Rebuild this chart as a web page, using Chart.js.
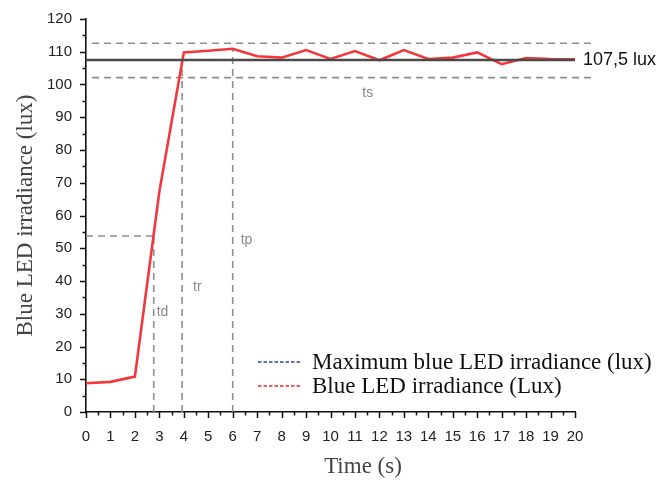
<!DOCTYPE html>
<html>
<head>
<meta charset="utf-8">
<script src="https://cdn.jsdelivr.net/npm/chart.js@4/dist/chart.umd.min.js"></script>
<style>
  html, body { margin: 0; padding: 0; background: #fff; }
  #wrap { width: 662px; height: 483px; position: relative; }
</style>
</head>
<body>
<div id="wrap"><canvas id="c" width="662" height="483"></canvas></div>
<script>
// data
const times = [0, 1, 2, 3, 4, 5, 6, 7, 8, 9, 10, 11, 12, 13, 14, 15, 16, 17, 18, 19, 20];
const irradiance = [8.8, 9.2, 10.8, 67.3, 109.8, 110.3, 110.9, 108.6, 108.2, 110.5, 107.8, 110.2, 107.4, 110.5, 107.8, 108.2, 109.8, 106.2, 108.1, 107.8, 107.7];
const steadyValue = 107.5;
const bandLevels = [112.6, 102.1];
const tdPoint = { x: 2.77, y: 53.75 };
const trPoint = { x: 3.93, y: 107.5 };
const tpPoint = { x: 6.0, y: 110.9 };
const xTicks = [0, 20];
const yTicks = [0, 120];

const GREY = '#8e8e8e';
const serif = '"Liberation Serif", "Times New Roman", serif';
const sans = '"Liberation Sans", Arial, sans-serif';

// dashed reference lines, tick marks, labels and legend
const extras = {
  id: 'extras',
  beforeDatasetsDraw(chart) {
    const { ctx, scales: { x, y } } = chart;
    ctx.save();
    ctx.strokeStyle = GREY;
    ctx.lineWidth = 1.6;
    ctx.setLineDash([7, 5]);
    const seg = (x1, y1, x2, y2) => {
      ctx.beginPath();
      ctx.moveTo(x.getPixelForValue(x1), y.getPixelForValue(y1));
      ctx.lineTo(x.getPixelForValue(x2), y.getPixelForValue(y2));
      ctx.stroke();
    };
    bandLevels.forEach(v => seg(0.25, v, 20.65, v));
    seg(0, tdPoint.y, tdPoint.x, tdPoint.y);
    seg(tdPoint.x, 0, tdPoint.x, tdPoint.y);
    seg(trPoint.x, 0, trPoint.x, trPoint.y);
    seg(tpPoint.x, 0, tpPoint.x, tpPoint.y);
    ctx.restore();
  },
  afterDraw(chart) {
    const { ctx, scales: { x, y } } = chart;
    ctx.save();
    // tick marks
    ctx.strokeStyle = '#111';
    ctx.lineWidth = 1.5;
    const x0 = x.left, y0 = y.bottom;
    for (let t = xTicks[0]; t <= xTicks[1]; t += 0.5) {
      const px = Math.round(x.getPixelForValue(t)) + 0.5;
      const len = Number.isInteger(t) ? 6 : 3.5;
      ctx.beginPath(); ctx.moveTo(px, y0); ctx.lineTo(px, y0 + len); ctx.stroke();
    }
    for (let v = yTicks[0]; v <= yTicks[1]; v += 5) {
      const py = Math.round(y.getPixelForValue(v)) + 0.5;
      const len = v % 10 === 0 ? 6 : 3.5;
      ctx.beginPath(); ctx.moveTo(x0, py); ctx.lineTo(x0 - len, py); ctx.stroke();
    }
    // marker labels
    ctx.fillStyle = '#8a8a8a';
    ctx.font = '14px ' + sans;
    ctx.textBaseline = 'middle';
    ctx.fillText('td', x.getPixelForValue(tdPoint.x) + 3, y.getPixelForValue(30.5));
    ctx.fillText('tr', x.getPixelForValue(trPoint.x) + 11, y.getPixelForValue(38));
    ctx.fillText('tp', x.getPixelForValue(tpPoint.x) + 8, y.getPixelForValue(52.5));
    ctx.fillText('ts', x.getPixelForValue(11.3), y.getPixelForValue(97.3));
    // steady value label
    ctx.fillStyle = '#111';
    ctx.font = '18px ' + sans;
    ctx.fillText('107,5 lux', x.getPixelForValue(20.33), y.getPixelForValue(steadyValue));
    // x axis title
    ctx.fillStyle = '#444';
    ctx.font = '23px ' + serif;
    ctx.textAlign = 'center';
    ctx.fillText('Time (s)', 363, 467);
    ctx.textAlign = 'left';
    // legend
    const items = [
      { text: 'Maximum blue LED irradiance (lux)', color: '#2e4a86' },
      { text: 'Blue LED irradiance (Lux)', color: '#e8282c' }
    ];
    ctx.font = '23px ' + serif;
    items.forEach((it, i) => {
      const ly = 362 + i * 24;
      ctx.strokeStyle = it.color;
      ctx.lineWidth = 1.5;
      ctx.setLineDash([3.5, 2]);
      ctx.beginPath(); ctx.moveTo(258, ly); ctx.lineTo(301, ly); ctx.stroke();
      ctx.setLineDash([]);
      ctx.fillStyle = '#111';
      ctx.fillText(it.text, 312, ly + 1);
    });
    ctx.restore();
  }
};

new Chart(document.getElementById('c'), {
  type: 'line',
  data: {
    datasets: [
      {
        label: 'Maximum blue LED irradiance (lux)',
        data: [{ x: 0, y: steadyValue }, { x: 20, y: steadyValue }],
        borderColor: '#4a4a4a',
        borderWidth: 2.6,
        pointRadius: 0,
        clip: false
      },
      {
        label: 'Blue LED irradiance (Lux)',
        data: times.map((t, i) => ({ x: t, y: irradiance[i] })),
        borderColor: '#f2383c',
        borderWidth: 2.6,
        pointRadius: 0,
        tension: 0,
        clip: false
      }
    ]
  },
  options: {
    responsive: false,
    animation: false,
    events: [],
    layout: { padding: { left: 8, right: 87, top: 19, bottom: 0 } },
    plugins: { legend: { display: false }, tooltip: { enabled: false } },
    scales: {
      x: {
        type: 'linear',
        min: xTicks[0],
        max: xTicks[1],
        grid: { display: false },
        border: { display: true, color: '#111', width: 1.6 },
        ticks: { stepSize: 1, padding: 8, color: '#222', font: { family: sans, size: 15 } },
        afterFit: s => { s.height = 71; }
      },
      y: {
        min: yTicks[0],
        max: yTicks[1],
        grid: { display: false },
        border: { display: true, color: '#111', width: 1.6 },
        ticks: { stepSize: 10, padding: 6, color: '#222', font: { family: sans, size: 15 } },
        title: { display: true, text: 'Blue LED irradiance (lux)', color: '#444', font: { family: serif, size: 23 }, padding: { bottom: 4 } },
        afterFit: s => { s.width = 78; }
      }
    }
  },
  plugins: [extras]
});
</script>
</body>
</html>
